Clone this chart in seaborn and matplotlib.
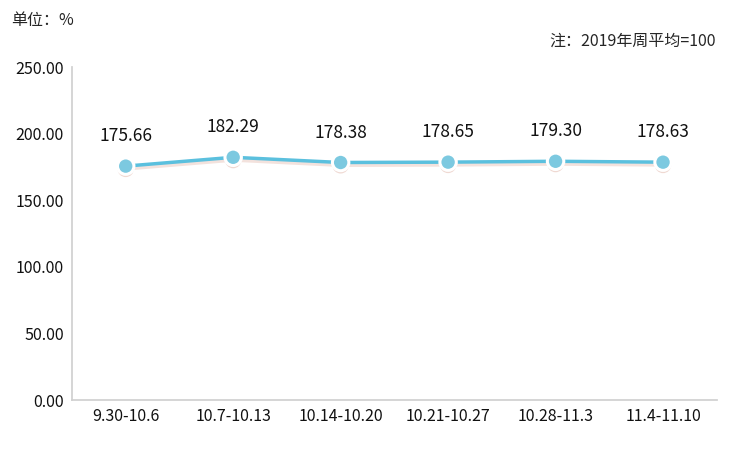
import matplotlib.pyplot as plt
import matplotlib.patheffects as pe
import seaborn as sns
import pandas as pd

sns.set_theme(style='white')
plt.rcParams['font.family'] = ['Noto Sans CJK SC', 'DejaVu Sans']

weeks = ['9.30-10.6', '10.7-10.13', '10.14-10.20', '10.21-10.27', '10.28-11.3', '11.4-11.10']
values = [175.66, 182.29, 178.38, 178.65, 179.30, 178.63]
df = pd.DataFrame({'week': weeks, 'value': values})
df['x'] = range(len(weeks))

fig = plt.figure(figsize=(7.42, 4.63), dpi=100)
ax = fig.add_axes([0.097, 0.136, 0.869, 0.719])

shadow = [pe.SimpleLineShadow(offset=(0, -1.5), shadow_color='#d9a090', alpha=0.3, linewidth=3.5), pe.Normal()]
sns.lineplot(data=df, x='x', y='value', ax=ax, color='#5bc0de', linewidth=2.5,
             path_effects=shadow)
ax.scatter(df['x'], df['value'], s=140, color='#7cc9e0', edgecolor='white', linewidth=2.2, zorder=5,
           path_effects=[pe.SimplePatchShadow(offset=(0, -2), shadow_rgbFace='#d9a090', alpha=0.4), pe.Normal()])

for x, v in zip(df['x'], df['value']):
    ax.annotate(f'{v:.2f}', (x, v), xytext=(0, 15), textcoords='offset points',
                ha='center', va='bottom', fontsize=12.5, color='#111111')

ax.set_xlim(-0.5, 5.5)
ax.set_ylim(0, 250)
ax.set_yticks([0, 50, 100, 150, 200, 250])
ax.set_yticklabels([f'{t:.2f}' for t in [0, 50, 100, 150, 200, 250]], fontsize=11.5)
ax.set_xticks(df['x'])
ax.set_xticklabels(weeks, fontsize=11.5)
ax.set_xlabel('')
ax.set_ylabel('')
ax.tick_params(length=0, pad=6, colors='#111111')
for s in ['top', 'right']:
    ax.spines[s].set_visible(False)
ax.spines['left'].set_color('#d0d0d0')
ax.spines['bottom'].set_color('#d0d0d0')

fig.text(0.015, 0.955, '单位：%', fontsize=11.5, va='center')
fig.text(0.965, 0.912, '注：2019年周平均=100', fontsize=11.5, ha='right', va='center')

fig.savefig('out.png', dpi=100)
